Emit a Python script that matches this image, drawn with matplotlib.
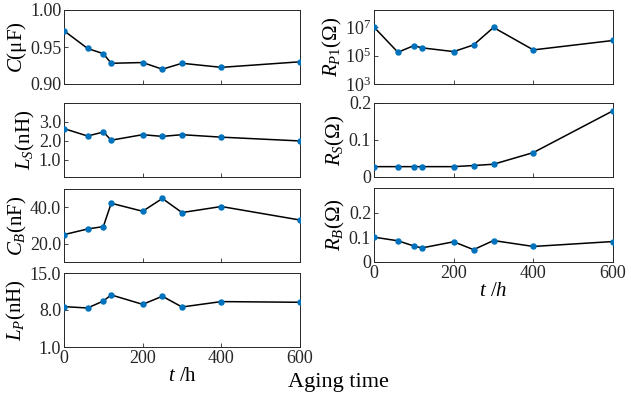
import numpy as np
import matplotlib
matplotlib.use('Agg')
import matplotlib.pyplot as plt

plt.rcParams['font.family'] = ['Liberation Serif', 'DejaVu Serif']
plt.rcParams['mathtext.fontset'] = 'custom'
plt.rcParams['mathtext.rm'] = 'Liberation Serif'
plt.rcParams['mathtext.it'] = 'Liberation Serif:italic'
plt.rcParams['font.size'] = 13

# aging time (h)
t = [0, 60, 100, 120, 200, 250, 300, 400, 600]

C = [0.972, 0.948, 0.941, 0.928, 0.929, 0.920, 0.928, 0.9225, 0.930]
Ls = [2.65, 2.26, 2.47, 2.04, 2.33, 2.24, 2.33, 2.20, 2.00]
Cb = [25.0, 28.1, 29.4, 42.2, 37.8, 44.8, 37.1, 40.4, 33.0]
Lp = [8.64, 8.38, 9.7, 10.85, 9.07, 10.6, 8.57, 9.59, 9.46]
Rp1 = [1.0e7, 1.7e5, 5.0e5, 3.5e5, 1.9e5, 5.6e5, 9.5e6, 2.5e5, 1.15e6]
Rs = [0.028, 0.028, 0.028, 0.028, 0.028, 0.031, 0.0345, 0.066, 0.179]
Rb = [0.1007, 0.086, 0.065, 0.057, 0.082, 0.050, 0.087, 0.063, 0.083]

W, H = 631, 401
fig = plt.figure(figsize=(W / 100, H / 100), dpi=100)


def mkax(x0, x1, y0, y1):
    return fig.add_axes([x0 / W, 1 - y1 / H, (x1 - x0) / W, (y1 - y0) / H])


def style(ax, y, ylim, yticks, ylabel, labels=None):
    ax.plot(t, y, color='black', lw=1.1, marker='o', ms=3.6,
            mfc='#0072BD', mec='#0072BD', zorder=3)
    ax.set_xlim(0, 600)
    ax.set_ylim(*ylim)
    ax.set_xticks([0, 200, 400, 600])
    if yticks is not None:
        ax.set_yticks(yticks)
        if labels is not None:
            ax.set_yticklabels(labels)
    ax.tick_params(direction='in', length=3, width=0.6, color='#262626',
                   labelcolor='#262626', labelsize=13, pad=2)
    for s in ax.spines.values():
        s.set_color('#262626')
        s.set_linewidth(0.7)
    ax.set_ylabel(ylabel, fontsize=15, labelpad=1)


ax1 = mkax(64, 300, 10, 84)
style(ax1, C, (0.90, 1.00), [0.90, 0.95, 1.00], r'$C$(μF)',
      ['0.90', '0.95', '1.00'])
ax2 = mkax(64, 300, 103, 177)
style(ax2, Ls, (0.1, 4.0), [1, 2, 3], r'$L_S$(nH)', ['1.0', '2.0', '3.0'])
ax3 = mkax(64, 300, 189, 262)
style(ax3, Cb, (10, 50), [20, 40], r'$C_B$(nF)', ['20.0', '40.0'])
ax4 = mkax(64, 300, 273, 347)
style(ax4, Lp, (1, 15), [1, 8, 15], r'$L_P$(nH)', ['1.0', '8.0', '15.0'])
for ax in (ax1, ax2, ax3):
    ax.set_xticklabels([])
ax4.set_xlabel(r'$t$ /h', fontsize=15, labelpad=0)

bx1 = mkax(374, 613, 10, 84)
bx1.set_yscale('log')
style(bx1, Rp1, (1e3, 1.6e8), [1e3, 1e5, 1e7], r'$R_{P1}$(Ω)')
bx1.tick_params(which='minor', direction='in', length=1.5, width=0.5,
                color='#262626')
bx2 = mkax(374, 613, 103, 177)
style(bx2, Rs, (0, 0.2), [0, 0.1, 0.2], r'$R_S$(Ω)', ['0', '0.1', '0.2'])
bx3 = mkax(374, 613, 188, 262)
style(bx3, Rb, (0, 0.3), [0, 0.1, 0.2], r'$R_B$(Ω)', ['0', '0.1', '0.2'])
for ax in (bx1, bx2):
    ax.set_xticklabels([])
bx3.set_xlabel(r'$t$ /$h$', fontsize=15, labelpad=0)

fig.text(338 / W, 1 - 383 / H, 'Aging time', ha='center', va='center',
         fontsize=16)

fig.savefig('out.png', dpi=100)
